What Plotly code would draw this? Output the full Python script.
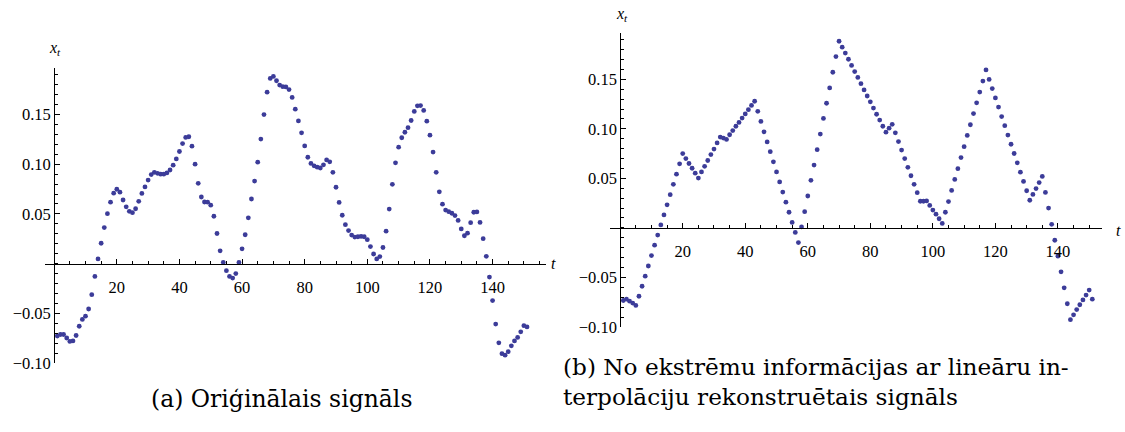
import plotly.graph_objects as go

# ---- data ----
t_values = list(range(1, 152))

original_signal = [
    -0.0725, -0.071, -0.071, -0.0745, -0.078, -0.0775, -0.072, -0.0627, -0.0559, -0.0526,
    -0.0454, -0.031, -0.0127, 0.0049, 0.0206, 0.0363, 0.0503, 0.0618, 0.0709, 0.0748,
    0.0719, 0.064, 0.0572, 0.0526, 0.0513, 0.0552, 0.0627, 0.0706, 0.0771, 0.084,
    0.0895, 0.0918, 0.0908, 0.0899, 0.0899, 0.0912, 0.0941, 0.099, 0.1052, 0.1127,
    0.1206, 0.1268, 0.1275, 0.118, 0.1, 0.0807, 0.067, 0.062, 0.0618, 0.0588,
    0.0477, 0.0304, 0.013, 0.0013, -0.0069, -0.0127, -0.0144, -0.0098, 0.0013, 0.015,
    0.0291, 0.0461, 0.065, 0.083, 0.102, 0.1252, 0.1497, 0.1722, 0.186, 0.188,
    0.1837, 0.1794, 0.1778, 0.1775, 0.1748, 0.167, 0.1552, 0.1434, 0.1314, 0.1183,
    0.1069, 0.1007, 0.0983, 0.097, 0.0961, 0.0993, 0.1042, 0.1023, 0.0918, 0.0768,
    0.0616, 0.0487, 0.0392, 0.0333, 0.0288, 0.0268, 0.0271, 0.0274, 0.0271, 0.0242,
    0.0173, 0.0098, 0.0049, 0.0072, 0.0163, 0.0327, 0.0549, 0.0797, 0.1013, 0.117,
    0.1265, 0.132, 0.1366, 0.1438, 0.1529, 0.1585, 0.1588, 0.1539, 0.1431, 0.1291,
    0.1121, 0.0918, 0.0722, 0.0598, 0.0539, 0.0523, 0.0507, 0.0484, 0.0435, 0.035,
    0.0281, 0.0307, 0.0412, 0.0517, 0.052, 0.0415, 0.0252, 0.0075, -0.0134, -0.037,
    -0.0605, -0.0794, -0.0902, -0.0918, -0.0882, -0.0824, -0.0775, -0.0739, -0.0683, -0.0621,
    -0.0634,
]

reconstructed_signal = [
    -0.0733, -0.072, -0.074, -0.0759, -0.0783, -0.069, -0.0589, -0.0487, -0.0385, -0.028,
    -0.0175, -0.0073, 0.003, 0.0131, 0.0233, 0.0335, 0.044, 0.0542, 0.0647, 0.075,
    0.07, 0.065, 0.0602, 0.0552, 0.0503, 0.0565, 0.0621, 0.068, 0.074, 0.0795,
    0.0858, 0.0917, 0.0907, 0.0893, 0.094, 0.0982, 0.1026, 0.1065, 0.1108, 0.115,
    0.1193, 0.1236, 0.1278, 0.1177, 0.1075, 0.097, 0.0868, 0.0769, 0.0667, 0.0565,
    0.0464, 0.0361, 0.0259, 0.0158, 0.0055, -0.0046, -0.0148, 0.001, 0.0164, 0.0322,
    0.048, 0.0634, 0.0789, 0.0947, 0.1105, 0.1258, 0.1413, 0.1571, 0.1729, 0.1884,
    0.1824, 0.1765, 0.1702, 0.164, 0.1578, 0.1519, 0.1456, 0.1393, 0.1331, 0.1272,
    0.1209, 0.1147, 0.1088, 0.1026, 0.0966, 0.1006, 0.1045, 0.096, 0.0871, 0.0785,
    0.07, 0.0611, 0.0526, 0.044, 0.0355, 0.0269, 0.0269, 0.0272, 0.0227, 0.018,
    0.0138, 0.0092, 0.0045, 0.0158, 0.0266, 0.0378, 0.0489, 0.0598, 0.071, 0.082,
    0.0933, 0.1041, 0.1154, 0.1262, 0.1371, 0.1482, 0.1594, 0.1499, 0.1406, 0.1312,
    0.1219, 0.1124, 0.1032, 0.0937, 0.0844, 0.0751, 0.0657, 0.0562, 0.0469, 0.0375,
    0.0279, 0.0338, 0.0397, 0.0457, 0.0519, 0.0358, 0.02, 0.0036, -0.0125, -0.0286,
    -0.0444, -0.0605, -0.0766, -0.0927, -0.0878, -0.0825, -0.0776, -0.0727, -0.0678, -0.0628,
    -0.072,
]

x_tick_vals = [20, 40, 60, 80, 100, 120, 140]
x_tick_text = ["20", "40", "60", "80", "100", "120", "140"]
y_tick_vals = [-0.10, -0.05, 0.05, 0.10, 0.15]
y_tick_text = ["\u22120.10", "\u22120.05", "0.05", "0.10", "0.15"]

caption_a = "(a) Oriģinālais signāls"
caption_b1 = "(b) No ekstrēmu informācijas ar lineāru in-"
caption_b2 = "terpolāciju rekonstruētais signāls"

# ---- figure ----
W, H = 1125, 432
MARK = "#3c3c99"
SERIF = "Liberation Serif"
TICKFONT = dict(family=SERIF, size=16.5, color="black")

fig = go.Figure()
fig.add_trace(go.Scatter(x=t_values, y=original_signal, mode="markers",
                         marker=dict(color=MARK, size=4.8, line=dict(width=0)),
                         xaxis="x", yaxis="y", showlegend=False))
fig.add_trace(go.Scatter(x=t_values, y=reconstructed_signal, mode="markers",
                         marker=dict(color=MARK, size=4.8, line=dict(width=0)),
                         xaxis="x2", yaxis="y2", showlegend=False))


def xaxis_cfg(domain, rng, pos):
    return dict(domain=domain, range=rng, anchor="free", position=pos,
                showline=True, linecolor="black", linewidth=1,
                showgrid=False, zeroline=False,
                tickmode="array", tickvals=x_tick_vals, ticktext=x_tick_text,
                ticks="inside", ticklen=5, tickcolor="black", tickwidth=1,
                ticklabelstandoff=8,
                minor=dict(dtick=5, tick0=0, ticks="inside", ticklen=3,
                           tickcolor="black", tickwidth=1, showgrid=False),
                tickfont=TICKFONT)


def yaxis_cfg(domain, rng, pos):
    return dict(domain=domain, range=rng, anchor="free", position=pos,
                showline=True, linecolor="black", linewidth=1,
                showgrid=False, zeroline=False,
                tickmode="array", tickvals=y_tick_vals, ticktext=y_tick_text,
                ticks="inside", ticklen=5, tickcolor="black", tickwidth=1,
                minor=dict(dtick=0.01, tick0=0, ticks="inside", ticklen=3,
                           tickcolor="black", tickwidth=1, showgrid=False),
                tickfont=TICKFONT)


# panel geometry (pixels -> paper fractions)
lx_dom = [45.1 / W, 545.8 / W]
ly_dom = [(H - 372.0) / H, (H - 69.1) / H]
rx_dom = [610.0 / W, 1101.7 / W]
ry_dom = [(H - 334.7) / H, (H - 33.5) / H]

fig.update_layout(
    width=W, height=H, autosize=False,
    margin=dict(l=0, r=0, t=0, b=0),
    paper_bgcolor="white", plot_bgcolor="white",
    font=dict(family=SERIF, size=16, color="black"),
    xaxis=xaxis_cfg(lx_dom, [-2.9, 157.0], (H - 270.0) / H),
    yaxis=yaxis_cfg(ly_dom, [-0.10, 0.197], 54.17 / W),
    xaxis2=xaxis_cfg(rx_dom, [-3.26, 154.0], (H - 233.3) / H),
    yaxis2=yaxis_cfg(ry_dom, [-0.10, 0.197], 620.2 / W),
)

ann = []
label_font = dict(family=SERIF, size=16, color="black")
ann.append(dict(text="<i>x<sub>t</sub></i>", xref="paper", yref="paper",
                x=55 / W, y=(H - 50) / H, showarrow=False, font=label_font,
                xanchor="center", yanchor="middle"))
ann.append(dict(text="<i>x<sub>t</sub></i>", xref="paper", yref="paper",
                x=622 / W, y=(H - 15) / H, showarrow=False, font=label_font,
                xanchor="center", yanchor="middle"))
ann.append(dict(text="<i>t</i>", xref="paper", yref="paper",
                x=553 / W, y=(H - 270) / H, showarrow=False, font=label_font,
                xanchor="center", yanchor="middle"))
ann.append(dict(text="<i>t</i>", xref="paper", yref="paper",
                x=1118 / W, y=(H - 236) / H, showarrow=False, font=label_font,
                xanchor="center", yanchor="middle"))

cap_font = dict(family="DejaVu Serif", size=23.5, color="black")
cap_font_b = dict(family="DejaVu Serif", size=23.2, color="black")
ann.append(dict(text=caption_a, xref="paper", yref="paper",
                x=281 / W, y=(H - 408) / H, showarrow=False, font=cap_font,
                xanchor="center", yanchor="middle"))
ann.append(dict(text=caption_b1, xref="paper", yref="paper",
                x=561 / W, y=(H - 375) / H, showarrow=False, font=cap_font_b,
                xanchor="left", yanchor="middle"))
ann.append(dict(text=caption_b2, xref="paper", yref="paper",
                x=561 / W, y=(H - 406) / H, showarrow=False, font=cap_font_b,
                xanchor="left", yanchor="middle"))
fig.update_layout(annotations=ann)

fig.write_html("out.html")
